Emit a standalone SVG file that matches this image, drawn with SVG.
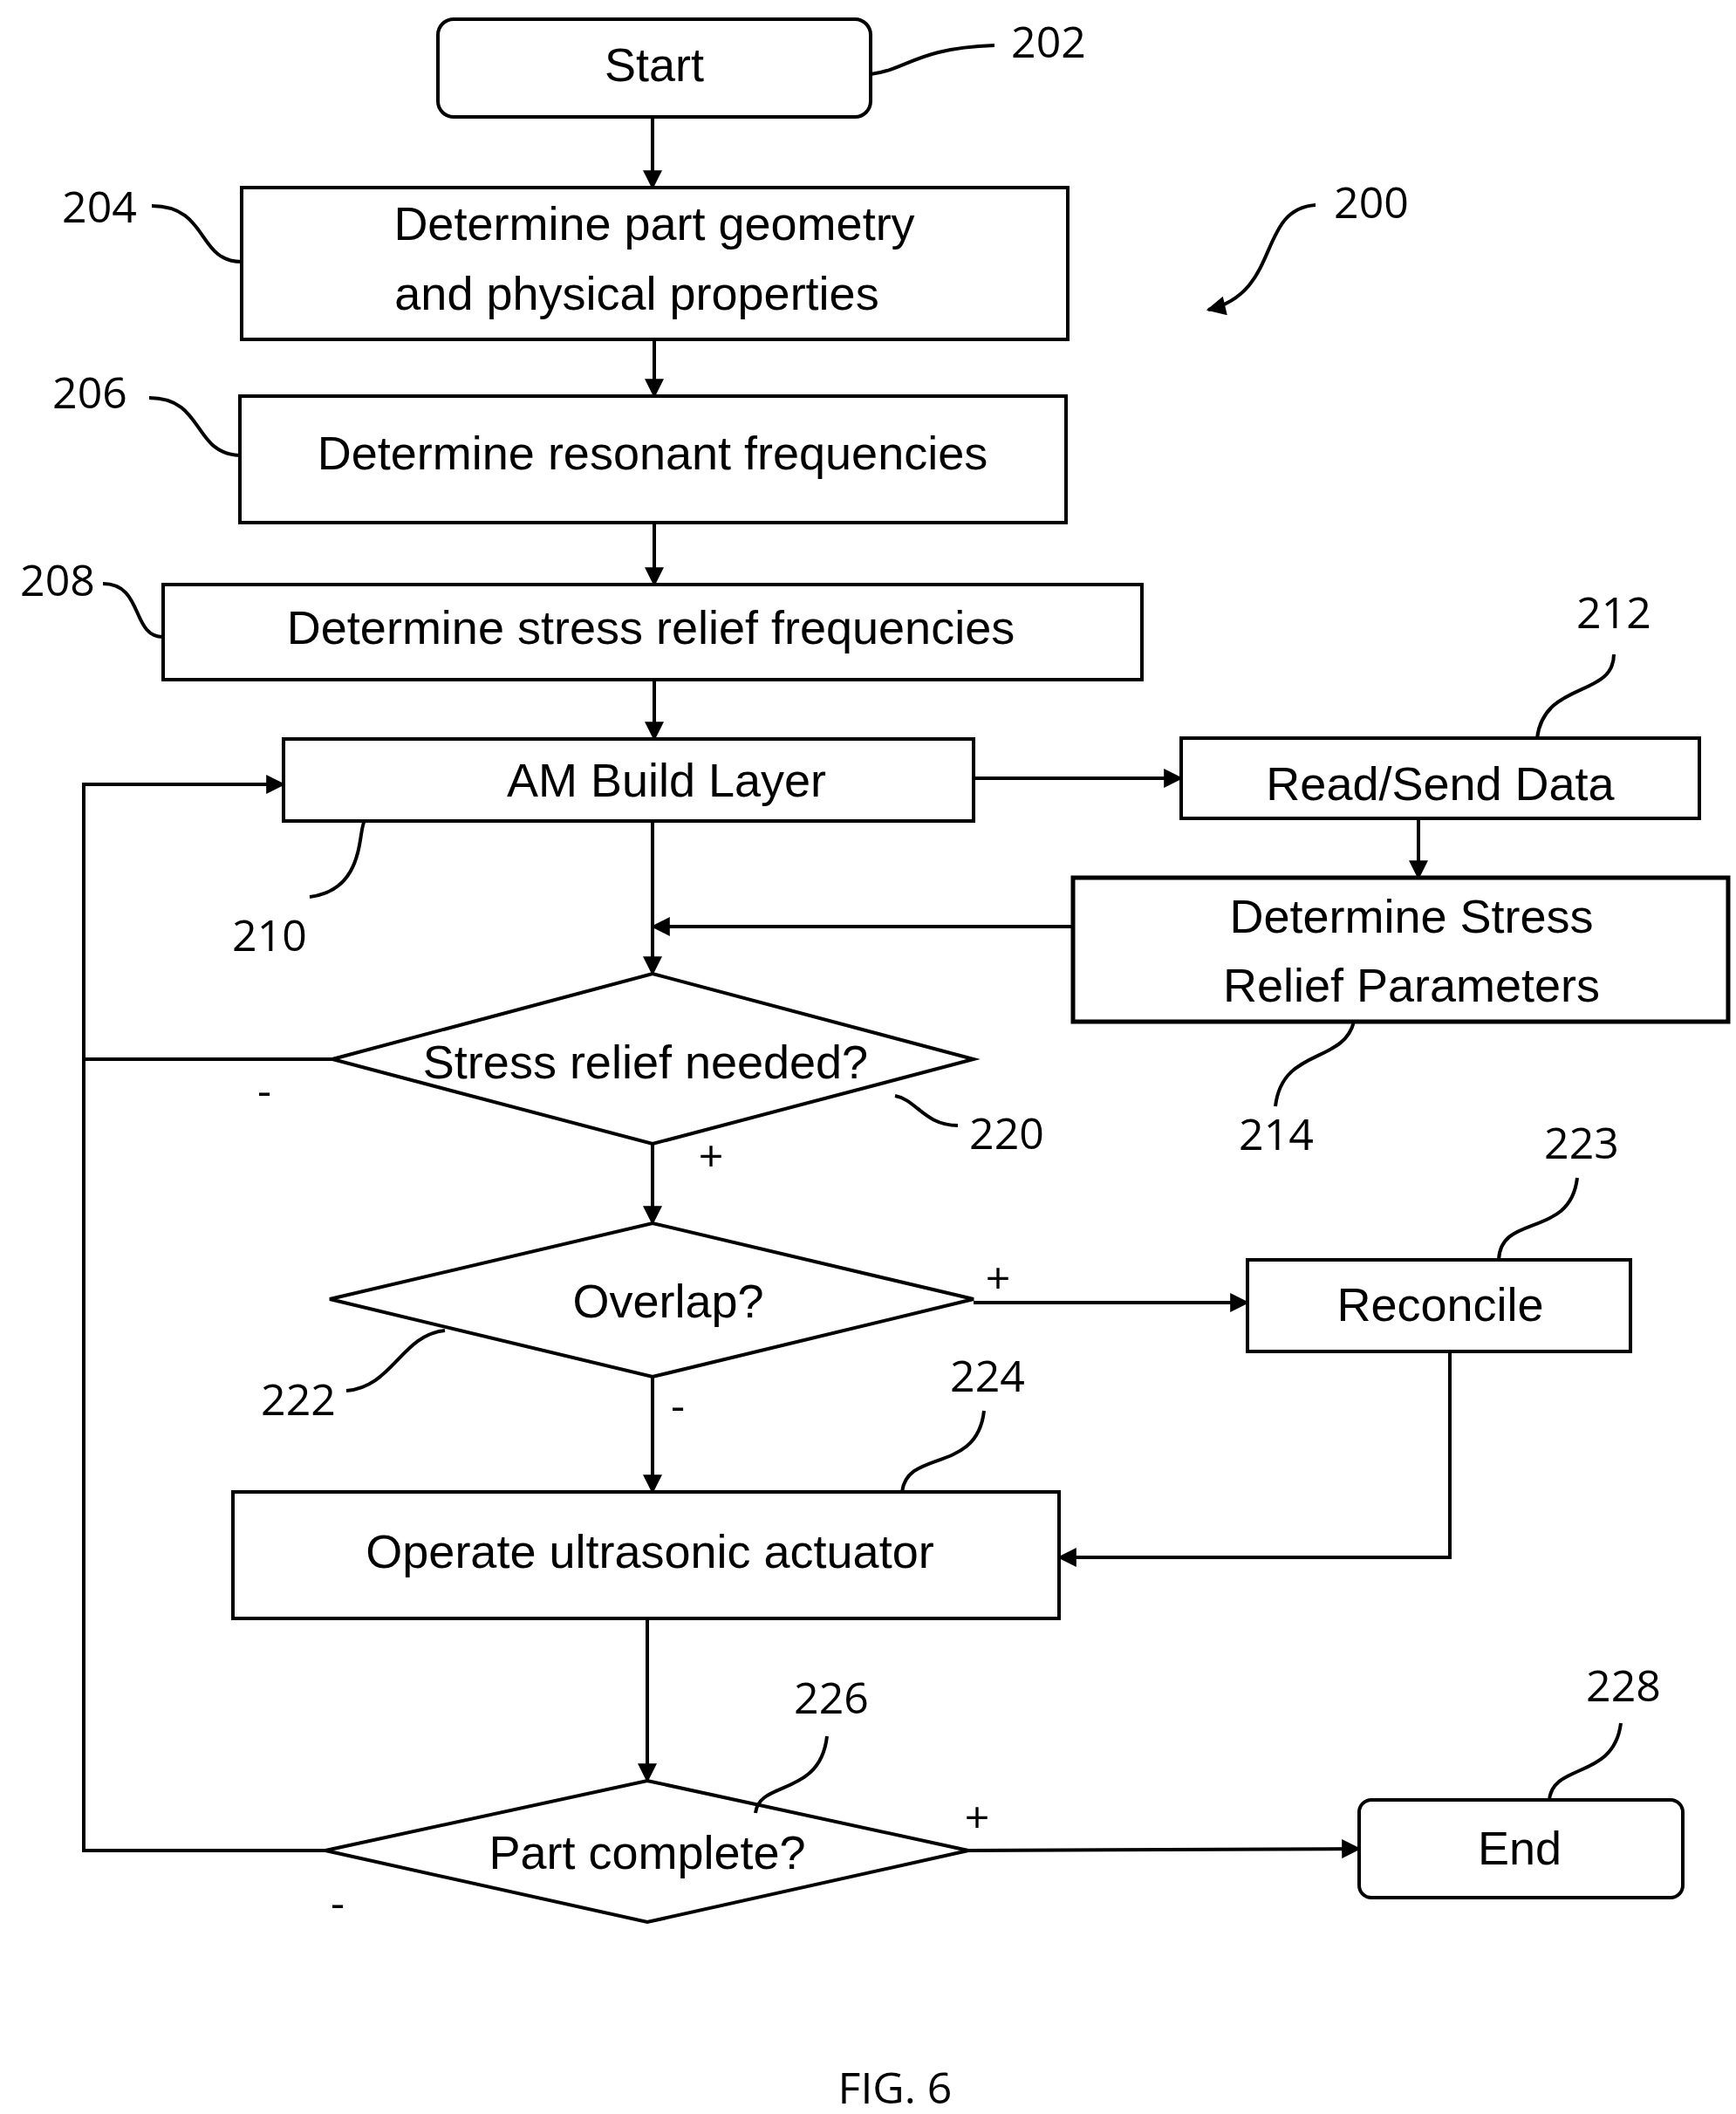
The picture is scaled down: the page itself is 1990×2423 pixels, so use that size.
<svg xmlns="http://www.w3.org/2000/svg" width="1990" height="2423" viewBox="0 0 1990 2423">
<style>
.b{fill:#fff;stroke:#000;stroke-width:4}
.t{font-family:"Liberation Sans",Arial,sans-serif;font-size:54px;text-anchor:middle;fill:#000}
.n{font-family:"Open Sans","Liberation Sans",sans-serif;font-size:50px;text-anchor:middle;fill:#000}
.c{fill:none;stroke:#000;stroke-width:4}
.l{fill:none;stroke:#000;stroke-width:4}
</style>
<defs><marker id="a" markerWidth="10" markerHeight="10" refX="9" refY="5" orient="auto" markerUnits="userSpaceOnUse" viewBox="0 0 10 10"><path d="M0,0L10,5L0,10z"/></marker>
<marker id="ah" viewBox="0 0 10 10" refX="9" refY="5" markerWidth="26" markerHeight="22" orient="auto" markerUnits="userSpaceOnUse"><path d="M0,0L10,5L0,10z"/></marker></defs>
<rect width="1990" height="2423" fill="#fff"/>
<g id="n202"><rect class="b" x="502" y="22" width="496" height="112" rx="18"/><text class="t" x="750" y="93">Start</text></g>
<g id="n204"><rect class="b" x="277" y="215" width="947" height="174"/><text class="t" x="750" y="275">Determine part geometry</text><text class="t" x="730" y="355">and physical properties</text></g>
<g id="n206"><rect class="b" x="275" y="454" width="947" height="145"/><text class="t" x="748" y="538">Determine resonant frequencies</text></g>
<g id="n208"><rect class="b" x="187" y="670" width="1122" height="109"/><text class="t" x="746" y="738">Determine stress relief frequencies</text></g>
<g id="n210"><rect class="b" x="325" y="847" width="791" height="94"/><text class="t" x="764" y="913">AM Build Layer</text></g>
<g id="n212"><rect class="b" x="1354" y="846" width="594" height="92"/><text class="t" x="1651" y="917">Read/Send Data</text></g>
<g id="n214"><rect class="b" x="1230" y="1006" width="751" height="165" style="stroke-width:5"/><text class="t" x="1618" y="1069">Determine Stress</text><text class="t" x="1618" y="1148">Relief Parameters</text></g>
<g id="n220"><polygon class="b" points="381,1214 748,1116 1116,1214 748,1311"/><text class="t" x="740" y="1236">Stress relief needed?</text></g>
<g id="n222"><polygon class="b" points="378,1489 748,1402 1116,1489 748,1578"/><text class="t" x="766" y="1510">Overlap?</text></g>
<g id="n223"><rect class="b" x="1430" y="1444" width="439" height="105"/><text class="t" x="1651" y="1514">Reconcile</text></g>
<g id="n224"><rect class="b" x="267" y="1710" width="947" height="145"/><text class="t" x="745" y="1797">Operate ultrasonic actuator</text></g>
<g id="n226"><polygon class="b" points="373,2121 742,2041 1110,2121 742,2203"/><text class="t" x="742" y="2142">Part complete?</text></g>
<g id="n228"><rect class="b" x="1558" y="2063" width="371" height="112" rx="14"/><text class="t" x="1742" y="2137">End</text></g>
<g id="connectors">
<path class="c" marker-end="url(#ah)" d="M748,134V215"/>
<path class="c" marker-end="url(#ah)" d="M750,389V454"/>
<path class="c" marker-end="url(#ah)" d="M750,599V670"/>
<path class="c" marker-end="url(#ah)" d="M750,779V847"/>
<path class="c" marker-end="url(#ah)" d="M1116,892H1354"/>
<path class="c" marker-end="url(#ah)" d="M1626,938V1006"/>
<path class="c" marker-end="url(#ah)" d="M1230,1062H748"/>
<path class="c" marker-end="url(#ah)" d="M748,941V1116"/>
<path class="c" marker-end="url(#ah)" d="M381,1214H96V2121H373M96,1214V899H325"/>
<path class="c" marker-end="url(#ah)" d="M748,1311V1402"/>
<path class="c" marker-end="url(#ah)" d="M1116,1493H1430"/>
<path class="c" marker-end="url(#ah)" d="M748,1578V1710"/>
<path class="c" marker-end="url(#ah)" d="M1662,1549V1785H1214"/>
<path class="c" marker-end="url(#ah)" d="M742,1855V2041"/>
<path class="c" marker-end="url(#ah)" d="M1110,2121L1558,2119"/>
</g>
<g id="labels">
<text class="n" x="1202" y="66">202</text><path class="l" d="M998,85C1040,80 1050,55 1140,52"/>
<text class="n" x="1572" y="250">200</text><path class="l" marker-end="url(#ah)" d="M1508,235C1440,240 1470,335 1385,355"/>
<text class="n" x="114" y="255">204</text><path class="l" d="M174,236C240,236 225,300 277,300"/>
<text class="n" x="103" y="468">206</text><path class="l" d="M171,456C235,456 220,520 275,522"/>
<text class="n" x="66" y="683">208</text><path class="l" d="M118,669C165,669 150,730 187,730"/>
<text class="n" x="1850" y="720">212</text><path class="l" d="M1850,750C1850,800 1770,780 1762,846"/>
<text class="n" x="309" y="1090">210</text><path class="l" d="M355,1028C420,1020 410,950 418,941"/>
<text class="n" x="1463" y="1318">214</text><path class="l" d="M1462,1268C1470,1200 1540,1220 1552,1171"/>
<text class="n" x="1154" y="1317">220</text><path class="l" d="M1098,1290C1060,1290 1050,1260 1026,1256"/>
<text class="n" x="1813" y="1328">223</text><path class="l" d="M1808,1350C1800,1420 1720,1390 1718,1444"/>
<text class="n" x="342" y="1622">222</text><path class="l" d="M397,1594C450,1590 460,1530 510,1525"/>
<text class="n" x="1132" y="1595">224</text><path class="l" d="M1128,1617C1120,1690 1040,1660 1034,1710"/>
<text class="n" x="953" y="1964">226</text><path class="l" d="M948,1990C940,2060 870,2040 866,2078"/>
<text class="n" x="1861" y="1950">228</text><path class="l" d="M1858,1975C1850,2040 1780,2020 1776,2063"/>
<text class="n" x="303" y="1268">-</text>
<text class="n" x="815" y="1343">+</text>
<text class="n" x="1144" y="1483">+</text>
<text class="n" x="777" y="1629">-</text>
<text class="n" x="1120" y="2101">+</text>
<text class="n" x="387" y="2199">-</text>
<text class="n" x="1026" y="2411">FIG. 6</text>
</g>
</svg>
